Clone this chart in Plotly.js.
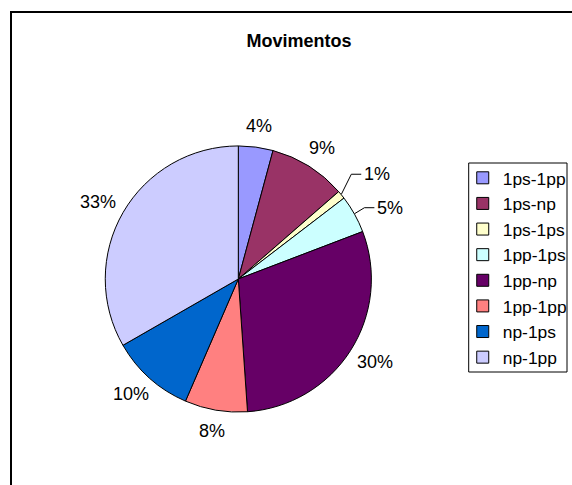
<!DOCTYPE html>
<html>
<head>
<meta charset="utf-8">
<script src="https://cdn.plot.ly/plotly-3.0.1.min.js"></script>
<style>
  html, body { margin: 0; padding: 0; background: #fff; overflow: hidden; }
  #wrap { position: relative; width: 572px; height: 485px; }
  #chart { position: absolute; left: 0; top: 0; width: 572px; height: 485px; }
  #frame { position: absolute; left: 10px; top: 11px; width: 700px; height: 600px;
           border: 2px solid #000; box-sizing: border-box; pointer-events: none; }
</style>
</head>
<body>
<div id="wrap">
  <div id="chart"></div>
  <div id="frame"></div>
</div>
<script>
// Data
const categories = ["1ps-1pp", "1ps-np", "1ps-1ps", "1pp-1ps", "1pp-np", "1pp-1pp", "np-1ps", "np-1pp"];
const values = [4.2, 9.4, 1.0, 4.6, 29.7, 7.6, 10.2, 33.3];
const colors = ["#9999FF", "#993366", "#FFFFCC", "#CCFFFF", "#660066", "#FF8080", "#0066CC", "#CCCCFF"];
const chartTitle = "Movimentos";

const W = 572, H = 485;
const FONT = "Liberation Sans, Arial, sans-serif";
const LABEL_SIZE = 18;
// pie geometry in pixels
const pieBox = { x0: 106, x1: 374, y0: 145, y1: 413 };
const cx = (pieBox.x0 + pieBox.x1) / 2, cy = (pieBox.y0 + pieBox.y1) / 2;
const r = (pieBox.x1 - pieBox.x0) / 2;
// labels that use a leader line (small slices), with elbow offsets in px
const leaders = { "1ps-1ps": { dx: 10, dy: -20 }, "1pp-1ps": { dx: 10, dy: -6 } };

const px = x => x / W;
const py = y => 1 - y / H;

const total = values.reduce((a, b) => a + b, 0);
const annotations = [];
const shapes = [];
let cum = 0;
values.forEach((v, i) => {
  const mid = (cum + v / 2) / total * 2 * Math.PI;
  cum += v;
  const ux = Math.sin(mid), uy = -Math.cos(mid);
  const txt = Math.round(v / total * 100) + "%";
  const lead = leaders[categories[i]];
  if (lead) {
    const ex = cx + r * ux, ey = cy + r * uy;
    const bx = ex + lead.dx, by = ey + lead.dy;
    const hx = bx + 10;
    shapes.push({ type: "line", xref: "paper", yref: "paper",
      x0: px(ex), y0: py(ey), x1: px(bx), y1: py(by), line: { color: "#000", width: 1 } });
    shapes.push({ type: "line", xref: "paper", yref: "paper",
      x0: px(bx), y0: py(by), x1: px(hx), y1: py(by), line: { color: "#000", width: 1 } });
    annotations.push({ xref: "paper", yref: "paper", x: px(hx + 1), y: py(by),
      xanchor: "left", yanchor: "middle", text: txt, showarrow: false,
      font: { family: FONT, size: LABEL_SIZE, color: "#000" } });
  } else {
    const R = r + 11;
    const hw = ((txt.length - 1) * 0.556 + 0.889) * LABEL_SIZE / 2;
    const hh = 9;
    const lx = cx + R * ux + ux * hw;
    const ly = cy + R * uy + uy * hh;
    annotations.push({ xref: "paper", yref: "paper", x: px(lx), y: py(ly),
      xanchor: "center", yanchor: "middle", text: txt, showarrow: false,
      font: { family: FONT, size: LABEL_SIZE, color: "#000" } });
  }
});

shapes.push({
  type: "rect", xref: "paper", yref: "paper",
  x0: px(472), x1: px(571), y0: py(372), y1: py(163),
  line: { color: "#000", width: 1 }, fillcolor: "rgba(0,0,0,0)"
});

const trace = {
  type: "pie",
  labels: categories,
  values: values,
  sort: false,
  direction: "clockwise",
  rotation: 0,
  marker: { colors: colors, line: { color: "#000", width: 1 } },
  textinfo: "none",
  hoverinfo: "label+percent",
  domain: { x: [px(pieBox.x0), px(pieBox.x1)], y: [py(pieBox.y1), py(pieBox.y0)] }
};

const layout = {
  width: W, height: H,
  margin: { l: 0, r: 0, t: 0, b: 0 },
  paper_bgcolor: "#fff",
  plot_bgcolor: "#fff",
  font: { family: FONT, color: "#000" },
  title: {
    text: "<b>" + chartTitle + "</b>",
    font: { family: FONT, size: 18, color: "#000" },
    x: px(299), xanchor: "center",
    y: py(41), yanchor: "middle"
  },
  showlegend: true,
  legend: {
    x: px(466), xanchor: "left",
    y: py(160), yanchor: "top",
    font: { family: FONT, size: 17.4, color: "#000" },
    bgcolor: "rgba(0,0,0,0)",
    borderwidth: 0,
    traceorder: "normal"
  },
  annotations: annotations,
  shapes: shapes
};

Plotly.newPlot("chart", [trace], layout, { displayModeBar: false, staticPlot: true });
</script>
</body>
</html>
